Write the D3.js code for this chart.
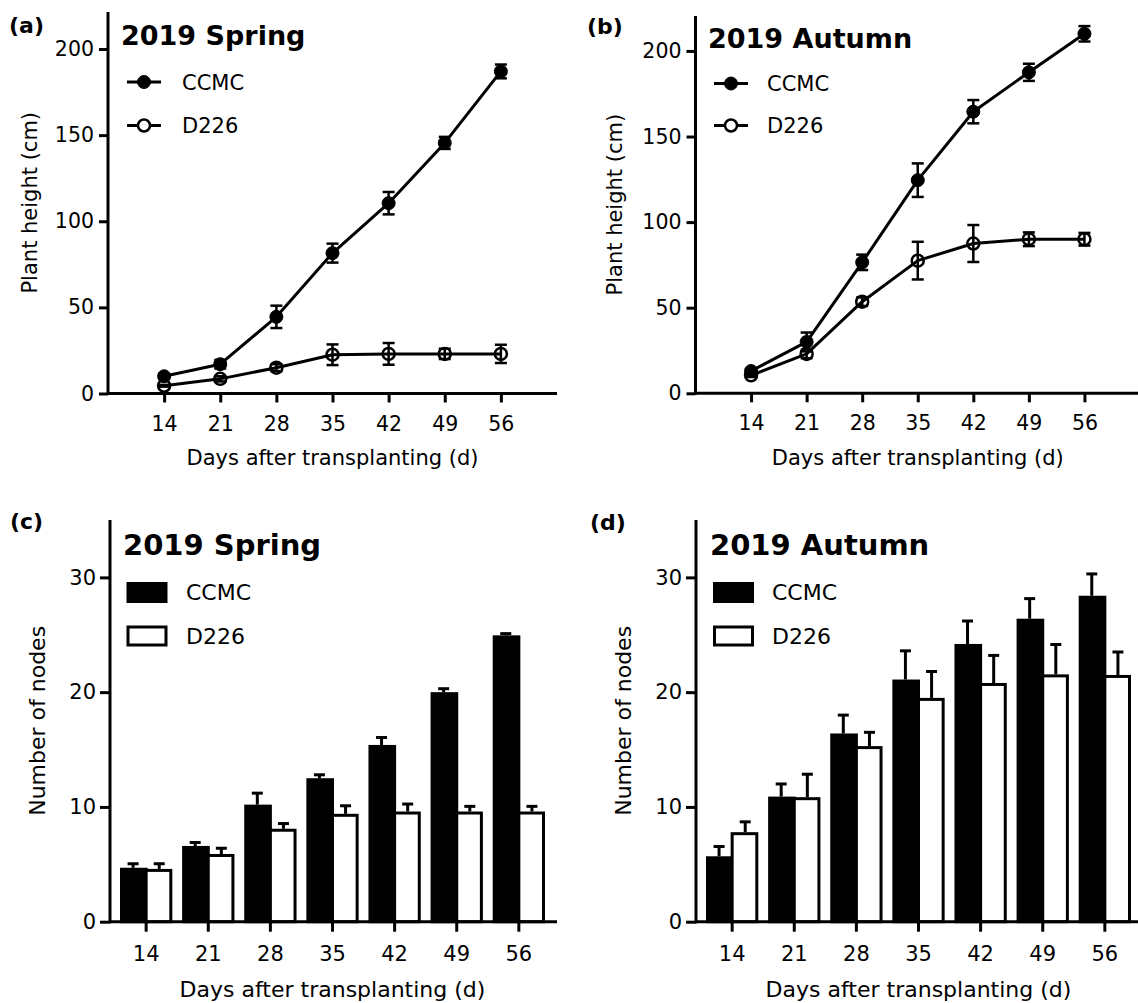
<!DOCTYPE html>
<html>
<head>
<meta charset="utf-8">
<script src="https://cdn.jsdelivr.net/npm/d3@7"></script>
<style>
  html, body { margin: 0; padding: 0; background: #fff; }
  svg { display: block; }
  text { font-family: "DejaVu Sans", Verdana, sans-serif; fill: #000; }
</style>
</head>
<body>
<svg id="chart" width="1138" height="1003"></svg>
<script>
// ---------------- DATA ----------------
const days = [14, 21, 28, 35, 42, 49, 56];
const seriesNames = ["CCMC", "D226"];

// (a) Plant height, 2019 Spring
const heightSpringCCMC    = [10, 17, 44.5, 81.5, 110.5, 145.5, 187];
const heightSpringCCMCErr = [1.5, 2.5, 6.5, 5.5, 6.5, 3.5, 4];
const heightSpringD226    = [4.5, 8.5, 15, 22.5, 23, 23, 23];
const heightSpringD226Err = [0.5, 1.5, 2, 6, 6.3, 3, 5.3];

// (b) Plant height, 2019 Autumn
const heightAutumnCCMC    = [13, 30, 76.5, 124.5, 164.5, 187.5, 210];
const heightAutumnCCMCErr = [1.5, 5.5, 4.5, 9.8, 6.8, 5, 4.5];
const heightAutumnD226    = [10.5, 23, 53.5, 77.5, 87.5, 90, 90];
const heightAutumnD226Err = [1, 2.5, 2.5, 11, 10.8, 4, 3.7];

// (c) Number of nodes, 2019 Spring
const nodesSpringCCMC    = [4.7, 6.6, 10.2, 12.5, 15.4, 20.0, 24.95];
const nodesSpringCCMCErr = [0.35, 0.3, 1.0, 0.3, 0.65, 0.3, 0.15];
const nodesSpringD226    = [4.6, 5.9, 8.1, 9.4, 9.6, 9.6, 9.6];
const nodesSpringD226Err = [0.45, 0.5, 0.45, 0.7, 0.65, 0.45, 0.45];

// (d) Number of nodes, 2019 Autumn
const nodesAutumnCCMC    = [5.7, 10.9, 16.4, 21.1, 24.2, 26.4, 28.4];
const nodesAutumnCCMCErr = [0.85, 1.1, 1.6, 2.5, 2.0, 1.75, 1.9];
const nodesAutumnD226    = [7.8, 10.85, 15.3, 19.5, 20.8, 21.55, 21.5];
const nodesAutumnD226Err = [0.9, 2.0, 1.2, 2.3, 2.4, 2.6, 2.0];

const heightTicks = [0, 50, 100, 150, 200];
const nodeTicks = [0, 10, 20, 30];

const xTitle = "Days after transplanting (d)";
const heightTitle = "Plant height (cm)";
const nodesTitle = "Number of nodes";

// ---------------- DRAWING ----------------
const svg = d3.select("#chart");
svg.append("rect").attr("width", 1138).attr("height", 1003).attr("fill", "#fff");

function axisStyle(g) {
  g.selectAll("path.domain").remove();
  g.selectAll("line").attr("stroke", "#000").attr("stroke-width", 3);
}

function linePanel(cfg) {
  const g = svg.append("g");
  const x = d3.scaleLinear().domain([7, 63]).range([cfg.ax, cfg.axRight]);
  const y = d3.scaleLinear().domain([0, cfg.yMax]).range([cfg.y0, cfg.yTop]);

  g.append("line").attr("x1", cfg.ax).attr("x2", cfg.ax).attr("y1", cfg.yTop).attr("y2", cfg.y0 + 1.5)
    .attr("stroke", "#000").attr("stroke-width", 3);
  g.append("line").attr("x1", cfg.ax).attr("x2", cfg.axRight).attr("y1", cfg.y0).attr("y2", cfg.y0)
    .attr("stroke", "#000").attr("stroke-width", 3);

  const yAx = g.append("g").attr("transform", `translate(${cfg.ax},0)`)
    .call(d3.axisLeft(y).tickValues(heightTicks).tickSize(9).tickPadding(5).tickFormat(d3.format("d")));
  axisStyle(yAx);
  yAx.selectAll("text").style("font-size", cfg.tickFont + "px");

  const xAx = g.append("g").attr("transform", `translate(0,${cfg.y0})`)
    .call(d3.axisBottom(x).tickValues(days).tickSize(9).tickPadding(0).tickFormat(d3.format("d")));
  axisStyle(xAx);
  xAx.selectAll("text").style("font-size", cfg.tickFont + "px").attr("dy", null).attr("y", cfg.xLabelOffset);

  const series = [
    { name: "D226", vals: cfg.d226, errs: cfg.d226Err, filled: false },
    { name: "CCMC", vals: cfg.ccmc, errs: cfg.ccmcErr, filled: true }
  ];
  const line = d3.line().x((d, i) => x(days[i])).y(d => y(d));
  series.forEach(s => {
    g.append("path").datum(s.vals).attr("d", line).attr("fill", "none")
      .attr("stroke", "#000").attr("stroke-width", 3).attr("stroke-linejoin", "round");
  });
  series.forEach(s => {
    const eb = g.append("g");
    s.vals.forEach((v, i) => {
      const cx = x(days[i]), e = s.errs[i];
      const yl = y(v - e), yh = y(v + e);
      eb.append("line").attr("x1", cx).attr("x2", cx).attr("y1", yl).attr("y2", yh)
        .attr("stroke", "#000").attr("stroke-width", 2.5);
      [yl, yh].forEach(yy => eb.append("line").attr("x1", cx - 6).attr("x2", cx + 6)
        .attr("y1", yy).attr("y2", yy).attr("stroke", "#000").attr("stroke-width", 2.5));
    });
    g.selectAll(null).data(s.vals).enter().append("circle")
      .attr("cx", (d, i) => x(days[i])).attr("cy", d => y(d))
      .attr("r", s.filled ? 6.5 : 6)
      .attr("fill", s.filled ? "#000" : "none")
      .attr("stroke", "#000").attr("stroke-width", s.filled ? 1 : 2.5);
  });

  const legend = [
    { name: seriesNames[0], filled: true, y: cfg.legY[0] },
    { name: seriesNames[1], filled: false, y: cfg.legY[1] }
  ];
  legend.forEach(l => {
    g.append("line").attr("x1", cfg.legX).attr("x2", cfg.legX + 34).attr("y1", l.y).attr("y2", l.y)
      .attr("stroke", "#000").attr("stroke-width", 3);
    g.append("circle").attr("cx", cfg.legX + 17).attr("cy", l.y).attr("r", l.filled ? 6.5 : 6)
      .attr("fill", l.filled ? "#000" : "#fff").attr("stroke", "#000").attr("stroke-width", l.filled ? 1 : 2.5);
    g.append("text").attr("x", cfg.legTextX).attr("y", l.y).attr("dy", "0.36em")
      .style("font-size", cfg.legFont + "px").text(l.name);
  });

  g.append("text").attr("x", cfg.letterX).attr("y", cfg.letterY).style("font-size", "22px")
    .style("font-weight", "bold").text(cfg.letter);
  g.append("text").attr("x", cfg.titleX).attr("y", cfg.titleY).style("font-size", cfg.titleFont + "px")
    .style("font-weight", "bold").text(cfg.title);
  g.append("text").attr("x", x(35)).attr("y", cfg.xTitleY).attr("text-anchor", "middle")
    .style("font-size", cfg.axisFont + "px").text(xTitle);
  g.append("text").attr("transform", `translate(${cfg.yTitleX},${(cfg.yTop + cfg.y0) / 2}) rotate(-90)`)
    .attr("text-anchor", "middle").attr("dy", "0.35em")
    .style("font-size", cfg.axisFont + "px").text(heightTitle);
}

function barPanel(cfg) {
  const g = svg.append("g");
  const x = d3.scaleBand().domain(days).range([cfg.ax, cfg.ax + 445]).paddingInner(0.158).paddingOuter(0.161);
  const y = d3.scaleLinear().domain([0, 35]).range([cfg.y0, cfg.yTop]);
  const half = x.bandwidth() / 2;

  const groups = [
    { vals: cfg.ccmc, errs: cfg.ccmcErr, fill: "#000", k: 0 },
    { vals: cfg.d226, errs: cfg.d226Err, fill: "#fff", k: 1 }
  ];
  groups.forEach(s => {
    s.vals.forEach((v, i) => {
      const bx = x(days[i]) + s.k * half;
      const left = s.k === 0 ? bx + 1.5 : bx;
      const right = s.k === 0 ? bx + half : bx + half - 1.5;
      const cx = bx + half / 2;
      const e = s.errs[i];
      g.append("line").attr("x1", cx).attr("x2", cx).attr("y1", y(v)).attr("y2", y(v + e))
        .attr("stroke", "#000").attr("stroke-width", 3);
      g.append("line").attr("x1", cx - 5.5).attr("x2", cx + 5.5).attr("y1", y(v + e)).attr("y2", y(v + e))
        .attr("stroke", "#000").attr("stroke-width", 3);
      g.append("rect").attr("x", left).attr("width", right - left)
        .attr("y", y(v) + 1.5).attr("height", y(0) - y(v) - 1.5)
        .attr("fill", s.fill).attr("stroke", "#000").attr("stroke-width", 3);
    });
  });

  g.append("line").attr("x1", cfg.ax).attr("x2", cfg.ax).attr("y1", cfg.yTop).attr("y2", cfg.y0 + 1.5)
    .attr("stroke", "#000").attr("stroke-width", 3);
  g.append("line").attr("x1", cfg.ax).attr("x2", cfg.axRight).attr("y1", cfg.y0).attr("y2", cfg.y0)
    .attr("stroke", "#000").attr("stroke-width", 3);

  const yAx = g.append("g").attr("transform", `translate(${cfg.ax},0)`)
    .call(d3.axisLeft(y).tickValues(nodeTicks).tickSize(10).tickPadding(4).tickFormat(d3.format("d")));
  axisStyle(yAx);
  yAx.selectAll("text").style("font-size", cfg.tickFont + "px");

  const xAx = g.append("g").attr("transform", `translate(0,${cfg.y0})`)
    .call(d3.axisBottom(x).tickSize(10).tickPadding(0).tickFormat(d3.format("d")));
  axisStyle(xAx);
  xAx.selectAll("text").style("font-size", cfg.tickFont + "px").attr("dy", null).attr("y", cfg.xLabelOffset);

  const legend = [
    { name: seriesNames[0], fill: "#000", y: cfg.legY[0] },
    { name: seriesNames[1], fill: "#fff", y: cfg.legY[1] }
  ];
  legend.forEach(l => {
    g.append("rect").attr("x", cfg.legX + 1.5).attr("y", l.y - 9).attr("width", 38).attr("height", 18)
      .attr("fill", l.fill).attr("stroke", "#000").attr("stroke-width", 3);
    g.append("text").attr("x", cfg.legTextX).attr("y", l.y).attr("dy", "0.36em")
      .style("font-size", cfg.legFont + "px").text(l.name);
  });

  g.append("text").attr("x", cfg.letterX).attr("y", cfg.letterY).style("font-size", "22px")
    .style("font-weight", "bold").text(cfg.letter);
  g.append("text").attr("x", cfg.titleX).attr("y", cfg.titleY).style("font-size", cfg.titleFont + "px")
    .style("font-weight", "bold").text(cfg.title);
  g.append("text").attr("x", x(35) + x.bandwidth() / 2).attr("y", cfg.xTitleY).attr("text-anchor", "middle")
    .style("font-size", cfg.axisFont + "px").text(xTitle);
  g.append("text").attr("transform", `translate(${cfg.yTitleX},${(cfg.yTop + cfg.y0) / 2}) rotate(-90)`)
    .attr("text-anchor", "middle").attr("dy", "0.35em")
    .style("font-size", cfg.axisFont + "px").text(nodesTitle);
}

linePanel({
  letter: "(a)", letterX: 9, letterY: 33,
  title: "2019 Spring", titleX: 121, titleY: 45, titleFont: 27,
  ax: 108, axRight: 557, y0: 393.5, yTop: 12, yMax: 221.5,
  tickFont: 20.5, axisFont: 21, legFont: 21, xLabelOffset: 37,
  legX: 127, legTextX: 182, legY: [82, 125.5],
  xTitleY: 465, yTitleX: 30,
  ccmc: heightSpringCCMC, ccmcErr: heightSpringCCMCErr,
  d226: heightSpringD226, d226Err: heightSpringD226Err
});

linePanel({
  letter: "(b)", letterX: 587, letterY: 34,
  title: "2019 Autumn", titleX: 708, titleY: 48, titleFont: 27,
  ax: 695.5, axRight: 1140, y0: 393.3, yTop: 16, yMax: 220.4,
  tickFont: 20.5, axisFont: 21, legFont: 21, xLabelOffset: 37,
  legX: 714, legTextX: 767, legY: [83.5, 125.5],
  xTitleY: 465, yTitleX: 615,
  ccmc: heightAutumnCCMC, ccmcErr: heightAutumnCCMCErr,
  d226: heightAutumnD226, d226Err: heightAutumnD226Err
});

barPanel({
  letter: "(c)", letterX: 10, letterY: 529,
  title: "2019 Spring", titleX: 123, titleY: 555, titleFont: 29,
  ax: 110, axRight: 557, y0: 921.7, yTop: 520,
  tickFont: 21, axisFont: 22, legFont: 22, xLabelOffset: 39,
  legX: 126.5, legTextX: 186, legY: [592.5, 636],
  xTitleY: 997, yTitleX: 37,
  ccmc: nodesSpringCCMC, ccmcErr: nodesSpringCCMCErr,
  d226: nodesSpringD226, d226Err: nodesSpringD226Err
});

barPanel({
  letter: "(d)", letterX: 590, letterY: 530,
  title: "2019 Autumn", titleX: 710, titleY: 555, titleFont: 29,
  ax: 696, axRight: 1138, y0: 921.7, yTop: 520,
  tickFont: 21, axisFont: 22, legFont: 22, xLabelOffset: 39,
  legX: 713, legTextX: 772, legY: [592.5, 636],
  xTitleY: 997, yTitleX: 623,
  ccmc: nodesAutumnCCMC, ccmcErr: nodesAutumnCCMCErr,
  d226: nodesAutumnD226, d226Err: nodesAutumnD226Err
});
</script>
</body>
</html>
